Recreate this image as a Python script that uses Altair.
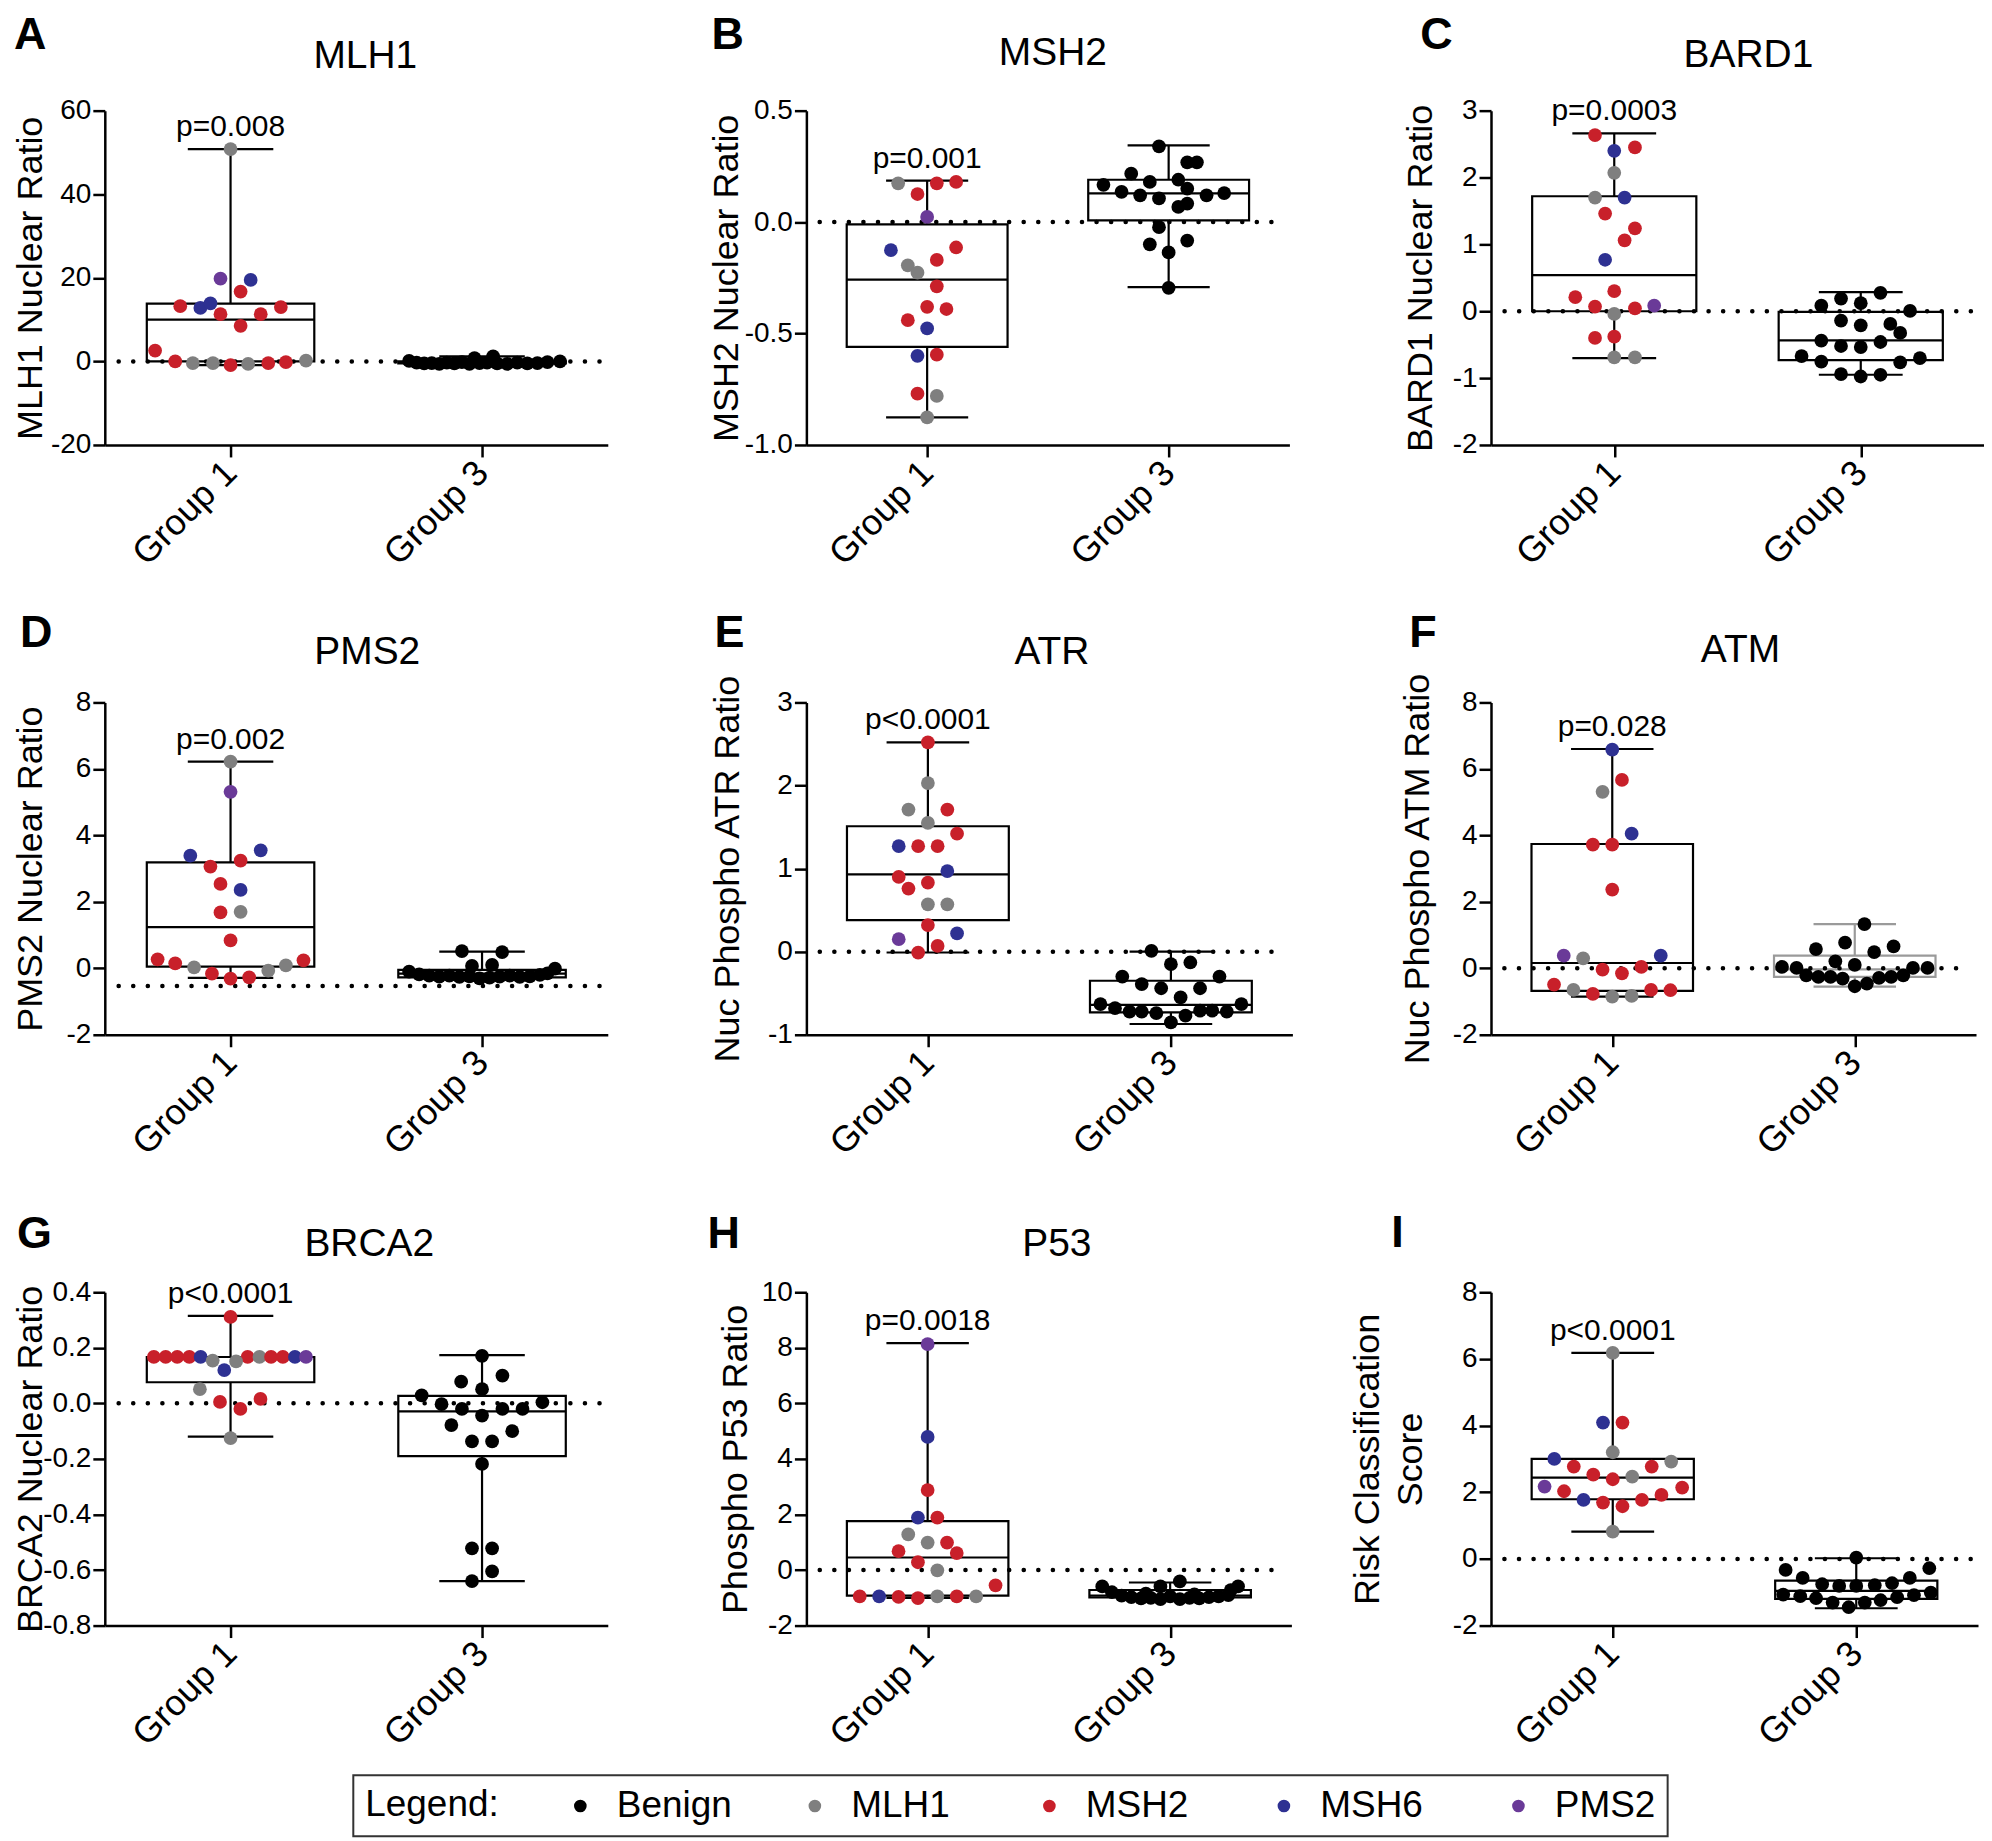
import altair as alt
import pandas as pd

FONT = "Liberation Sans, Arial, Helvetica, sans-serif"

CATEGORIES = ["Benign", "MLH1", "MSH2", "MSH6", "PMS2"]
CAT_COLORS = ["#000000", "#7f7f7f", "#c8202a", "#2e3192", "#6a3a98"]
CODE = {"K": "Benign", "G": "MLH1", "R": "MSH2", "B": "MSH6", "P": "PMS2"}
GROUP_LABELS = ["Group 1", "Group 3"]

# ---------------- A: MLH1 ----------------
MLH1_G1_VAL = [50.8, 19.8, 19.5, 16.7, 13.2, 12.8, 13.9, 13.0, 11.3, 11.3, 8.5, 2.6, 0.0, -0.4, -0.4, -0.9, -0.6, -0.4, -0.2, 0.2]
MLH1_G1_OFF = [0, -0.04, 0.08, 0.04, -0.20, -0.12, -0.08, 0.20, -0.04, 0.12, 0.04, -0.30, -0.22, -0.15, -0.07, 0, 0.07, 0.15, 0.22, 0.30]
MLH1_G1_CAT = "GPBRRBBRRRRRRGGRGRRG"
MLH1_G3_VAL = [0.1, -0.3, -0.5, -0.4, -0.6, -0.3, -0.5, -0.2, -0.6, 0.8, -0.4, -0.3, 1.2, -0.5, -0.6, -0.3, -0.5, -0.4, -0.2, 0.0]
MLH1_G3_OFF = [-0.29, -0.26, -0.23, -0.20, -0.17, -0.14, -0.11, -0.08, -0.05, -0.03, -0.01, 0.02, 0.044, 0.06, 0.10, 0.14, 0.18, 0.22, 0.26, 0.31]
MLH1_BOX = [[-0.9, 0.0, 10.0, 13.8, 50.8], [-0.6, -0.5, -0.35, 0.0, 1.2]]

# ---------------- B: MSH2 ----------------
MSH2_G1_VAL = [0.174, 0.174, 0.18, 0.126, 0.023, -0.126, -0.114, -0.17, -0.194, -0.227, -0.288, -0.38, -0.39, -0.44, -0.477, -0.60, -0.595, -0.77, -0.78, -0.876]
MSH2_G1_OFF = [-0.12, 0.04, 0.12, -0.04, 0, -0.15, 0.12, 0.04, -0.08, -0.04, 0.04, 0, 0.08, -0.08, 0, -0.04, 0.04, -0.04, 0.04, 0]
MSH2_G1_CAT = "GRRRPBRRGGRRRRBBRRGG"
MSH2_G3_VAL = [0.34, 0.268, 0.268, 0.217, 0.167, 0.18, 0.19, 0.136, 0.12, 0.15, 0.106, 0.12, 0.13, 0.068, 0.083, -0.023, -0.1, -0.083, -0.136, -0.295]
MSH2_G3_OFF = [-0.04, 0.077, 0.117, -0.155, -0.27, -0.078, 0.04, -0.195, -0.118, 0.077, -0.04, 0.157, 0.23, 0.04, 0.077, -0.04, -0.078, 0.077, 0, 0]
MSH2_BOX = [[-0.876, -0.56, -0.258, -0.01, 0.186], [-0.292, 0.008, 0.129, 0.19, 0.344]]

# ---------------- C: BARD1 ----------------
BARD1_G1_VAL = [2.635, 2.40, 2.45, 2.07, 1.70, 1.70, 1.46, 1.24, 1.06, 0.77, 0.30, 0.21, 0.07, 0.044, 0.083, -0.04, -0.40, -0.38, -0.69, -0.69]
BARD1_G1_OFF = [-0.078, 0, 0.084, 0, -0.078, 0.042, -0.037, 0.084, 0.042, -0.037, 0, -0.158, -0.078, 0.084, 0.162, 0, -0.078, 0, 0, 0.084]
BARD1_G1_CAT = "RBRGGBRRRBRRRRPGRRGG"
BARD1_G3_VAL = [0.276, 0.19, 0.12, 0.083, 0.005, -0.14, -0.21, -0.19, -0.325, -0.44, -0.52, -0.535, -0.46, -0.67, -0.755, -0.766, -0.70, -0.94, -0.976, -0.95]
BARD1_G3_OFF = [0.08, -0.08, 0, -0.16, 0.2, -0.08, 0, 0.12, 0.16, -0.16, -0.08, 0, 0.08, -0.24, -0.16, 0.16, 0.24, -0.08, 0, 0.08]
BARD1_BOX = [[-0.70, 0.0, 0.54, 1.72, 2.66], [-0.95, -0.73, -0.435, -0.01, 0.287]]

# ---------------- D: PMS2 ----------------
PMS2_G1_VAL = [6.22, 5.31, 3.39, 3.55, 3.24, 3.06, 2.54, 2.36, 1.68, 1.70, 0.84, 0.27, 0.15, 0.24, 0.03, 0.09, -0.07, -0.16, -0.31, -0.27]
PMS2_G1_OFF = [0, 0, -0.16, 0.12, 0.04, -0.08, -0.04, 0.04, -0.04, 0.04, 0, -0.29, -0.22, 0.29, -0.145, 0.22, 0.15, -0.074, 0, 0.074]
PMS2_G1_CAT = "GPBBRRRBRGRRRRGGGRRR"
PMS2_G3_VAL = [-0.10, -0.18, -0.22, -0.25, -0.22, -0.26, 0.52, -0.24, 0.07, -0.30, -0.28, 0.10, -0.25, 0.49, -0.22, -0.26, -0.24, -0.20, -0.15, -0.01]
PMS2_G3_OFF = [-0.29, -0.25, -0.21, -0.17, -0.13, -0.09, -0.08, -0.05, -0.04, -0.01, 0.03, 0.04, 0.07, 0.08, 0.11, 0.15, 0.19, 0.23, 0.26, 0.29]
PMS2_BOX = [[-0.29, 0.05, 1.24, 3.19, 6.22], [-0.33, -0.27, -0.16, -0.05, 0.50]]

# ---------------- E: ATR ----------------
ATR_G1_VAL = [2.52, 2.03, 1.71, 1.71, 1.55, 1.42, 1.27, 1.27, 1.27, 0.97, 0.90, 0.83, 0.76, 0.57, 0.57, 0.32, 0.22, 0.15, 0.07, -0.01]
ATR_G1_OFF = [0, 0, -0.08, 0.08, 0, 0.12, -0.12, -0.04, 0.04, 0.08, -0.12, 0, -0.08, 0, 0.08, 0, 0.12, -0.12, 0.04, -0.04]
ATR_G1_CAT = "RGGRGRBRRBRRRGGRBPRR"
ATR_G3_VAL = [0.01, -0.15, -0.13, -0.30, -0.30, -0.39, -0.44, -0.44, -0.55, -0.63, -0.68, -0.72, -0.72, -0.74, -0.85, -0.77, -0.71, -0.71, -0.72, -0.63]
ATR_G3_OFF = [-0.08, 0, 0.08, -0.2, 0.2, -0.12, -0.04, 0.12, 0.04, -0.29, -0.23, -0.17, -0.12, -0.06, 0, 0.06, 0.12, 0.17, 0.23, 0.29]
ATR_BOX = [[-0.01, 0.38, 0.93, 1.51, 2.52], [-0.87, -0.73, -0.64, -0.35, 0.0]]

# ---------------- F: ATM ----------------
ATM_G1_VAL = [6.58, 5.67, 5.31, 4.05, 3.72, 3.72, 2.37, 0.38, 0.30, 0.38, 0.04, -0.04, -0.15, -0.49, -0.65, -0.65, -0.66, -0.77, -0.85, -0.83]
ATM_G1_OFF = [0, 0.04, -0.04, 0.08, -0.08, 0, 0, -0.2, -0.12, 0.2, 0.12, -0.04, 0.04, -0.24, -0.16, 0.16, 0.24, -0.08, 0, 0.08]
ATM_G1_CAT = "BRGBRRRPGBRRRRGRRRGG"
ATM_G3_VAL = [1.33, 0.77, 0.66, 0.58, 0.49, 0.21, 0.10, 0.04, 0.01, 0.01, 0.01, -0.21, -0.26, -0.26, -0.31, -0.29, -0.26, -0.21, -0.54, -0.46]
ATM_G3_OFF = [0.04, -0.04, 0.16, -0.16, 0.08, -0.08, 0, -0.3, -0.24, 0.24, 0.30, -0.2, -0.15, -0.1, -0.05, 0.1, 0.15, 0.2, 0, 0.05]
ATM_BOX = [[-0.85, -0.68, 0.16, 3.74, 6.6], [-0.55, -0.26, -0.03, 0.38, 1.33]]

# ---------------- G: BRCA2 ----------------
BRCA2_G1_VAL = [0.311, 0.167, 0.167, 0.167, 0.167, 0.167, 0.167, 0.167, 0.167, 0.167, 0.167, 0.167, 0.154, 0.151, 0.12, 0.051, 0.005, 0.016, -0.02, -0.125]
BRCA2_G1_OFF = [0, -0.305, -0.258, -0.212, -0.164, -0.119, 0.068, 0.115, 0.161, 0.208, 0.256, 0.30, -0.071, 0.022, -0.025, -0.122, -0.042, 0.119, 0.039, 0]
BRCA2_G1_CAT = "RRRRRBRGRRBPGGBGRRRG"
BRCA2_G3_VAL = [0.171, 0.10, 0.078, 0.051, 0.029, 0.004, -0.003, -0.02, -0.02, -0.02, -0.044, -0.078, -0.10, -0.137, -0.137, -0.218, -0.522, -0.522, -0.605, -0.64]
BRCA2_G3_OFF = [0, 0.081, -0.083, 0, -0.24, 0.24, -0.161, -0.08, 0.081, 0.161, 0, -0.122, 0.12, -0.04, 0.04, 0, -0.04, 0.04, 0.04, -0.04]
BRCA2_BOX = [[-0.12, 0.076, 0.167, 0.167, 0.315], [-0.64, -0.19, -0.029, 0.027, 0.174]]

# ---------------- H: P53 ----------------
P53_G1_VAL = [8.13, 4.79, 2.88, 1.89, 1.89, 1.28, 0.99, 0.99, 0.68, 0.61, 0.28, -0.01, -0.55, -0.95, -0.95, -0.97, -1.01, -0.95, -0.95, -0.95]
P53_G1_OFF = [0, 0, 0, -0.04, 0.04, -0.08, 0, 0.08, -0.12, 0.12, -0.04, 0.04, 0.28, -0.28, -0.2, -0.12, -0.04, 0.04, 0.12, 0.2]
P53_G1_CAT = "PBRBRGGRRRRGRRBRRGRG"
P53_G3_VAL = [-0.59, -0.80, -0.92, -0.98, -1.02, -1.0, -0.59, -1.05, -0.95, -0.41, -1.05, -1.0, -1.02, -0.98, -0.95, -0.90, -0.72, -0.59, -0.85, -0.88]
P53_G3_OFF = [-0.28, -0.24, -0.20, -0.16, -0.12, -0.08, -0.04, -0.04, 0.0, 0.04, 0.04, 0.08, 0.12, 0.16, 0.20, 0.24, 0.25, 0.28, -0.10, 0.10]
P53_BOX = [[-1.0, -0.92, 0.45, 1.76, 8.17], [-1.08, -0.99, -0.92, -0.72, -0.45]]

# ---------------- I: Risk score ----------------
RISK_G1_VAL = [6.18, 4.09, 4.09, 3.20, 3.0, 2.92, 2.77, 2.77, 2.53, 2.39, 2.47, 2.17, 2.14, 2.03, 1.92, 1.77, 1.69, 1.77, 1.58, 0.82]
RISK_G1_OFF = [0, -0.04, 0.04, 0, -0.24, 0.24, -0.16, 0.16, -0.08, 0, 0.08, -0.28, 0.285, -0.2, 0.2, -0.12, -0.04, 0.12, 0.04, 0]
RISK_G1_CAT = "GBRGBGRRRRGPRRRBRRRG"
RISK_G3_VAL = [0.04, -0.33, -0.28, -0.57, -0.57, -0.76, -0.81, -0.81, -0.79, -0.73, -1.07, -1.12, -1.18, -1.31, -1.45, -1.31, -1.24, -1.15, -1.09, -1.01]
RISK_G3_OFF = [0, -0.29, 0.3, -0.22, 0.22, -0.14, -0.07, 0, 0.076, 0.147, -0.3, -0.23, -0.165, -0.097, -0.031, 0.035, 0.1, 0.168, 0.237, 0.306]
RISK_BOX = [[0.82, 1.79, 2.44, 3.0, 6.18], [-1.48, -1.2, -0.96, -0.65, 0.02]]

P_VALUES = ["p=0.008", "p=0.001", "p=0.0003", "p=0.002", "p<0.0001", "p=0.028", "p<0.0001", "p=0.0018", "p<0.0001"]

COLOR_SCALE = alt.Scale(domain=CATEGORIES, range=CAT_COLORS)
LEGEND = alt.Legend(
    orient="none", legendX=249, legendY=1668, direction="horizontal", columns=5,
    gridAlign="all", title="Legend:", titleOrient="left", titleFontSize=37,
    titleFontWeight="normal", titleColor="black", titlePadding=63,
    titleBaseline="middle", titleAnchor="middle",
    labelFontSize=37, labelColor="black", labelOffset=18, symbolType="circle",
    symbolSize=160, symbolStrokeWidth=0, symbolOpacity=1, columnPadding=64,
    padding=12,
)


def panel(g1_val, g1_off, g1_cat, g3_val, g3_off, box, pval, ref, ydom, yticks, yfmt,
          ytitle, letter, gene, W, H, lpos, tpos, ytx, box_colors=("black", "black")):
    pts = pd.DataFrame({
        "x": [0.5 + o for o in g1_off] + [1.5 + o for o in g3_off],
        "v": list(g1_val) + list(g3_val),
        "cat": [CODE[c] for c in g1_cat] + ["Benign"] * len(g3_val),
    })
    bx = pd.DataFrame({
        "c": [0.5, 1.5],
        "lo": [box[0][0], box[1][0]],
        "q1": [box[0][1], box[1][1]],
        "med": [box[0][2], box[1][2]],
        "q3": [box[0][3], box[1][3]],
        "hi": [box[0][4], box[1][4]],
        "bc": list(box_colors),
        "p": [pval, ""],
    })
    xs = alt.Scale(domain=[0, 2], nice=False, zero=False)
    ys = alt.Scale(domain=ydom, nice=False, zero=False)
    xa = alt.Axis(values=[0.5, 1.5],
                  labelExpr=f"datum.value < 1 ? '{GROUP_LABELS[0]}' : '{GROUP_LABELS[1]}'",
                  labelAngle=315, labelAlign="right", labelBaseline="middle",
                  labelFontSize=36, labelPadding=10, title=None, grid=False)
    ya = alt.Axis(values=yticks,
                  labelExpr=f"(datum.value < 0 ? '-' : '') + format(abs(datum.value), '{yfmt}')",
                  title=ytitle, titleX=ytx, titleY=H / 2, titleAngle=270,
                  titleAlign="center", titleBaseline="middle", titleLineHeight=43, grid=False)

    def X(f):
        return alt.X(field=f, type="quantitative", scale=xs, axis=xa)

    def Y(f):
        return alt.Y(field=f, type="quantitative", scale=ys, axis=ya)

    stroke = alt.Stroke("bc:N", scale=None)
    base = alt.Chart(bx).transform_calculate(
        xl="datum.c - 0.333", xr="datum.c + 0.333", cl="datum.c - 0.17", cr="datum.c + 0.17")
    sw = 2.2
    rect = base.mark_rect(fillOpacity=0, strokeWidth=sw).encode(
        x=X("xl"), x2=alt.X2("xr"), y=Y("q1"), y2=alt.Y2("q3"), stroke=stroke)
    med = base.mark_rule(strokeWidth=sw).encode(x=X("xl"), x2=alt.X2("xr"), y=Y("med"), stroke=stroke)
    wt = base.mark_rule(strokeWidth=sw).encode(x=X("c"), y=Y("q3"), y2=alt.Y2("hi"), stroke=stroke)
    wb = base.mark_rule(strokeWidth=sw).encode(x=X("c"), y=Y("lo"), y2=alt.Y2("q1"), stroke=stroke)
    ct = base.mark_rule(strokeWidth=sw).encode(x=X("cl"), x2=alt.X2("cr"), y=Y("hi"), stroke=stroke)
    cb = base.mark_rule(strokeWidth=sw).encode(x=X("cl"), x2=alt.X2("cr"), y=Y("lo"), stroke=stroke)

    refdf = pd.DataFrame({"ref": [ref], "xa": [0.055], "xb": [1.97]})
    dots = alt.Chart(refdf).mark_rule(color="black", strokeWidth=4.5, strokeDash=[0.1, 14.5],
                                      strokeCap="round").encode(x=X("xa"), x2=alt.X2("xb"), y=Y("ref"))
    points = alt.Chart(pts).mark_circle(size=190, opacity=1).encode(
        x=X("x"), y=Y("v"), color=alt.Color("cat:N", scale=COLOR_SCALE, legend=LEGEND))
    ptxt = base.transform_filter("datum.p != ''").mark_text(
        fontSize=30, dy=-13, baseline="alphabetic", align="center", color="black").encode(
        x=X("c"), y=Y("hi"), text="p:N")
    let = alt.Chart(pd.DataFrame({"t": [letter]})).mark_text(
        fontSize=45, fontWeight="bold", align="left", baseline="alphabetic", color="black").encode(
        x=alt.value(lpos[0]), y=alt.value(lpos[1]), text="t:N")
    layers = [rect, med, wt, wb, ct, cb, dots, points, ptxt, let]
    if gene:
        ttl = alt.Chart(pd.DataFrame({"t": [gene]})).mark_text(
            fontSize=39, align="center", baseline="alphabetic", color="black").encode(
            x=alt.value(tpos[0]), y=alt.value(tpos[1]), text="t:N")
        layers.append(ttl)
    return alt.layer(*layers).properties(width=W, height=H)


H1, H2, H3 = 335, 333, 334

pA = panel(MLH1_G1_VAL, MLH1_G1_OFF, MLH1_G1_CAT, MLH1_G3_VAL, MLH1_G3_OFF, MLH1_BOX, P_VALUES[0], 0,
           [-20, 60], [-20, 0, 20, 40, 60], "d", "MLH1 Nuclear Ratio", "A", "MLH1",
           504, H1, (-91, -62), (261, -43), -74)
pB = panel(MSH2_G1_VAL, MSH2_G1_OFF, MSH2_G1_CAT, MSH2_G3_VAL, MSH2_G3_OFF, MSH2_BOX, P_VALUES[1], 0,
           [-1.0, 0.5], [-1.0, -0.5, 0.0, 0.5], ".1f", "MSH2 Nuclear Ratio", "B", "MSH2",
           484, H1, (-95, -62), (247, -46), -80)
pC = panel(BARD1_G1_VAL, BARD1_G1_OFF, BARD1_G1_CAT, BARD1_G3_VAL, BARD1_G3_OFF, BARD1_BOX, P_VALUES[2], 0,
           [-2, 3], [-2, -1, 0, 1, 2, 3], "d", "BARD1 Nuclear Ratio", "C", "BARD1",
           494, H1, (-71, -62), (258, -44), -71)
pD = panel(PMS2_G1_VAL, PMS2_G1_OFF, PMS2_G1_CAT, PMS2_G3_VAL, PMS2_G3_OFF, PMS2_BOX, P_VALUES[3], -0.53,
           [-2, 8], [-2, 0, 2, 4, 6, 8], "d", "PMS2 Nuclear Ratio", "D", "PMS2",
           504, H2, (-85, -56), (263, -39), -74)
pE = panel(ATR_G1_VAL, ATR_G1_OFF, ATR_G1_CAT, ATR_G3_VAL, ATR_G3_OFF, ATR_BOX, P_VALUES[4], 0,
           [-1, 3], [-1, 0, 1, 2, 3], "d", "Nuc Phospho ATR Ratio", "E", "ATR",
           487, H2, (-92, -56), (246, -39), -79)
pF = panel(ATM_G1_VAL, ATM_G1_OFF, ATM_G1_CAT, ATM_G3_VAL, ATM_G3_OFF, ATM_BOX, P_VALUES[5], 0,
           [-2, 8], [-2, 0, 2, 4, 6, 8], "d", "Nuc Phospho ATM Ratio", "F", "ATM",
           486, H2, (-82, -56), (250, -41), -74, box_colors=("black", "#9a9a9a"))
pG = panel(BRCA2_G1_VAL, BRCA2_G1_OFF, BRCA2_G1_CAT, BRCA2_G3_VAL, BRCA2_G3_OFF, BRCA2_BOX, P_VALUES[6], 0,
           [-0.8, 0.4], [-0.8, -0.6, -0.4, -0.2, 0.0, 0.2, 0.4], ".1f", "BRCA2 Nuclear Ratio", "G", "BRCA2",
           504, H3, (-88, -44), (265, -36), -74)
pH = panel(P53_G1_VAL, P53_G1_OFF, P53_G1_CAT, P53_G3_VAL, P53_G3_OFF, P53_BOX, P_VALUES[7], 0,
           [-2, 10], [-2, 0, 2, 4, 6, 8, 10], "d", "Phospho P53 Ratio", "H", "P53",
           486, H3, (-99, -44), (251, -36), -71)
pI = panel(RISK_G1_VAL, RISK_G1_OFF, RISK_G1_CAT, RISK_G3_VAL, RISK_G3_OFF, RISK_BOX, P_VALUES[8], 0,
           [-2, 8], [-2, 0, 2, 4, 6, 8], "d", ["Risk Classification", "Score"], "I", None,
           488, H3, (-100, -45), (0, 0), -124)

chart = alt.concat(
    pA, pB, pC, pD, pE, pF, pG, pH, pI,
    columns=3, spacing={"row": 258, "column": 199}, bounds="flush", align="each",
).resolve_scale(x="independent", y="independent", color="shared").properties(
    padding={"left": 4, "top": 3, "right": 0, "bottom": 0}
).configure(font=FONT, background="white").configure_view(stroke=None).configure_axis(
    domainColor="black", domainWidth=2.5, tickColor="black", tickWidth=2.5, tickSize=12,
    labelColor="black", labelFont=FONT, labelFontSize=28, labelPadding=2,
    titleFont=FONT, titleFontSize=36, titleFontWeight="normal", titleColor="black", grid=False,
).configure_legend(strokeColor="#333333", strokeWidth=2, labelFont=FONT, titleFont=FONT)

chart.save("out.html", embed_options={"renderer": "svg", "actions": False})
